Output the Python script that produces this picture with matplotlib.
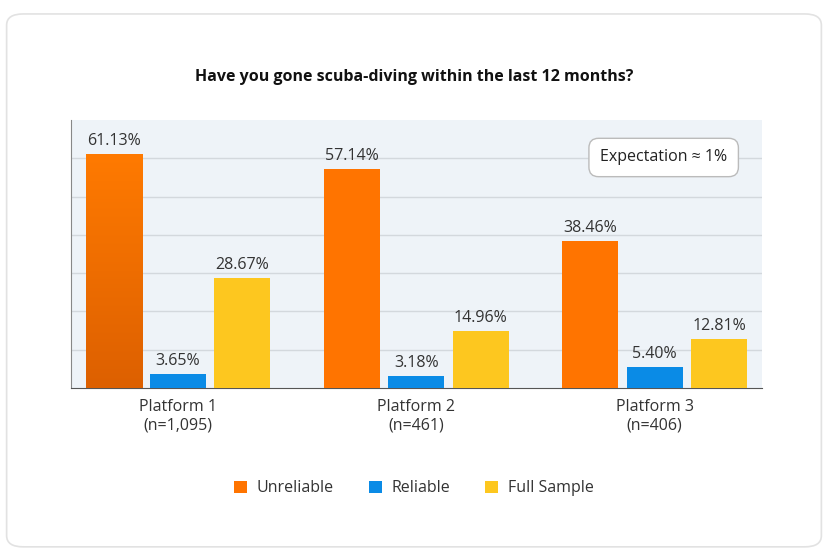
import matplotlib
matplotlib.use("Agg")
import matplotlib.pyplot as plt
import numpy as np
from matplotlib.patches import FancyBboxPatch
from matplotlib.colors import LinearSegmentedColormap

plt.rcParams['font.family'] = ['Open Sans', 'DejaVu Sans']

categories = ["Platform 1\n(n=1,095)", "Platform 2\n(n=461)", "Platform 3\n(n=406)"]
series_names = ["Unreliable", "Reliable", "Full Sample"]
unreliable = [61.13, 57.14, 38.46]
reliable = [3.65, 3.18, 5.40]
full_sample = [28.67, 14.96, 12.81]
colors = ["#FF7400", "#0A8BE6", "#FDC71F"]

fig = plt.figure(figsize=(8.28, 5.58), dpi=100)
fig.patch.set_facecolor("white")
card = FancyBboxPatch((0.008, 0.02), 0.984, 0.955, boxstyle="round,pad=0,rounding_size=0.02",
                      transform=fig.transFigure, facecolor="white", edgecolor="#E2E2E2", lw=1.2,
                      zorder=-10)
fig.patches.append(card)

ax = fig.add_axes([0.0857, 0.3047, 0.8343, 0.4803])
ax.set_zorder(1)
ax.set_facecolor("#EEF3F8")
x = np.arange(len(categories))
w = 0.235
step = 0.27
for i, (vals, c) in enumerate(zip([unreliable, reliable, full_sample], colors)):
    bars = ax.bar(x + (i - 1) * step, vals, width=w, color=c, zorder=3, label=series_names[i])
    for b, v in zip(bars, vals):
        ax.text(b.get_x() + b.get_width() / 2, v + 1.3, f"{v:.2f}%", ha="center", va="bottom",
                fontsize=11.5, color="#333333", zorder=4)
    if i == 0:
        b = bars[0]
        cmap = LinearSegmentedColormap.from_list("g", ["#DD6000", "#FF7A00"])
        x0, x1 = b.get_x(), b.get_x() + b.get_width()
        im = ax.imshow(np.linspace(0, 1, 100).reshape(-1, 1), extent=[x0, x1, 0, unreliable[0]],
                       origin="lower", aspect="auto", cmap=cmap, zorder=3.5)
        im.set_clip_path(b)

ax.set_xlim(-0.449, 2.449)
ax.set_ylim(0, 70)
ax.set_yticks(np.arange(10, 70, 10))
ax.yaxis.grid(True, color="#D3D8DD", lw=1, zorder=0)
ax.set_axisbelow(True)
ax.tick_params(axis="y", left=False, labelleft=False)
ax.tick_params(axis="x", length=0, pad=8, labelsize=11.5, labelcolor="#333333")
ax.set_xticks(x)
ax.set_xticklabels(categories)
for s in ["top", "right"]:
    ax.spines[s].set_visible(False)
ax.spines["left"].set_color("#888888")
ax.spines["bottom"].set_color("#555555")

fig.text(0.5, 0.862, "Have you gone scuba-diving within the last 12 months?", ha="center", va="center",
         fontsize=11.5, fontweight="bold", color="#111111")

ax.text(0.858, 0.86, "Expectation ≈ 1%", transform=ax.transAxes, ha="center", va="center",
        fontsize=11.5, color="#222222", zorder=5,
        bbox=dict(boxstyle="round,pad=0.7,rounding_size=0.6", facecolor="white", edgecolor="#BBBBBB", lw=1))

leg = fig.legend(loc="center", bbox_to_anchor=(0.5, 0.125), ncol=3, frameon=False, fontsize=11.5,
                 handlelength=0.8, handleheight=0.8, columnspacing=2.2, handletextpad=0.6)
for t in leg.get_texts():
    t.set_color("#333333")

fig.savefig("out.png", dpi=100)
